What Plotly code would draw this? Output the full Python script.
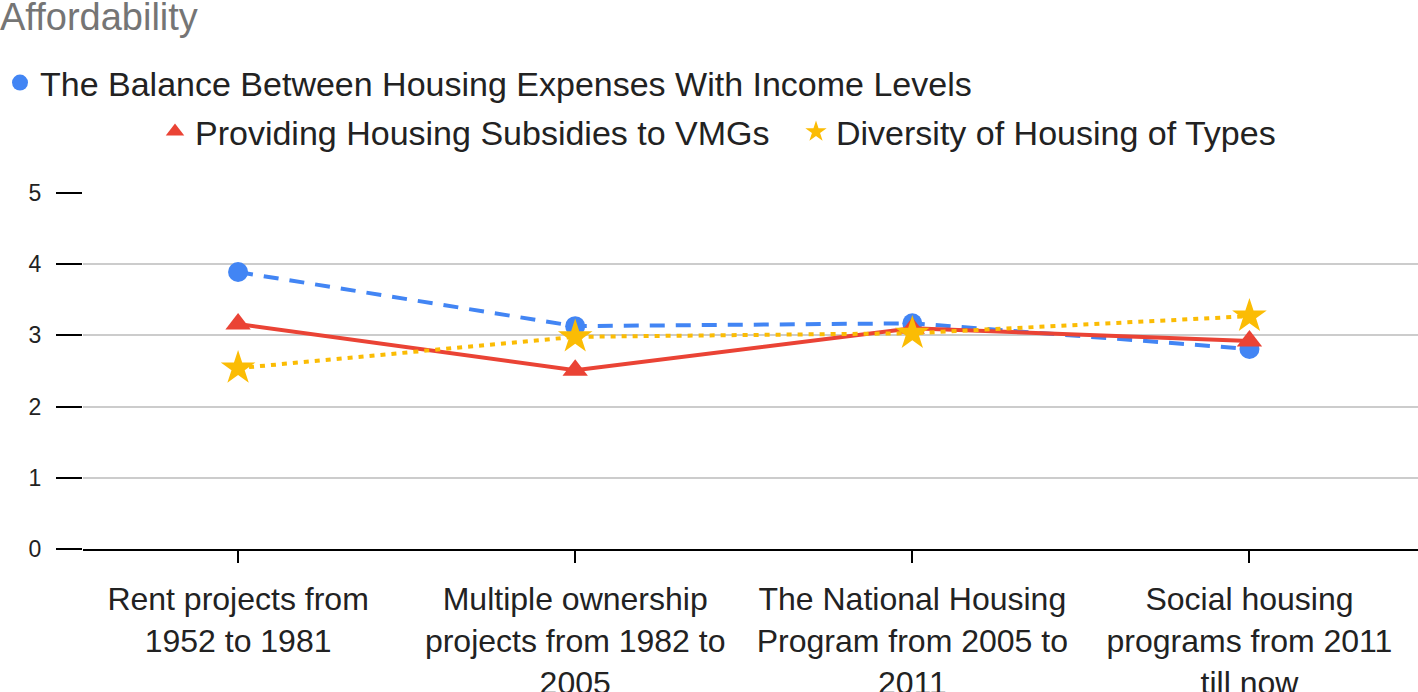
import plotly.graph_objects as go

categories = [
    "Rent projects from<br>1952 to 1981",
    "Multiple ownership<br>projects from 1982 to<br>2005",
    "The National Housing<br>Program from 2005 to<br>2011",
    "Social housing<br>programs from 2011<br>till now",
]
series_names = [
    "The Balance Between Housing Expenses With Income Levels",
    "Providing Housing Subsidies to VMGs",
    "Diversity of Housing of Types",
]
balance = [3.89, 3.13, 3.17, 2.81]
subsidies = [3.16, 2.51, 3.10, 2.92]
diversity = [2.54, 2.98, 3.03, 3.27]
y_ticks = [0, 1, 2, 3, 4, 5]
chart_title = "Affordability"

FONT = "Arial, Liberation Sans, sans-serif"
BLUE, RED, YELLOW = "#4285F4", "#EA4335", "#FBBC04"
W, H = 1418, 692
ML, MR, MT, MB = 83, 0, 193, 143
PW, PH = W - ML - MR, H - MT - MB

fig = go.Figure()
styles = [
    (balance, BLUE, "circle", 20, "15px,11px", "legend", 26),
    (subsidies, RED, "triangle-up", 22, "solid", "legend2", 22),
    (diversity, YELLOW, "star", 26, "5px,6px", "legend2", 24),
]
for name, (vals, col, sym, size, dash, leg, lsize) in zip(series_names, styles):
    fig.add_trace(go.Scatter(
        x=categories, y=vals, mode="lines+markers", name=name,
        line=dict(color=col, width=4, dash=dash),
        marker=dict(color=col, symbol=sym, size=size, line=dict(width=0)),
        showlegend=False,
    ))
for name, (vals, col, sym, size, dash, leg, lsize) in zip(series_names, styles):
    fig.add_trace(go.Scatter(
        x=[None], y=[None], mode="markers", name=name, legend=leg,
        marker=dict(color=col, symbol=sym, size=lsize, line=dict(width=0)),
        showlegend=True,
    ))

fig.add_annotation(
    text=chart_title, xref="paper", yref="paper",
    x=(-2 - ML) / PW, y=(H - MB - 17) / PH, xanchor="left", yanchor="middle",
    showarrow=False, font=dict(size=38, color="#757575", family=FONT),
)

fig.update_layout(
    width=W, height=H,
    margin=dict(l=ML, r=MR, t=MT, b=MB, autoexpand=False),
    paper_bgcolor="white", plot_bgcolor="white",
    font=dict(family=FONT, color="#222222"),
    xaxis=dict(type="category", range=[-0.46, 3.5], showgrid=False, automargin=False,
               showline=True, linecolor="black", linewidth=2,
               ticks="outside", ticklen=12, tickwidth=2, tickcolor="black",
               tickfont=dict(size=32, color="#222222", family=FONT),
               ticklabelstandoff=9),
    xaxis2=dict(type="linear", overlaying="x", anchor="y", side="bottom",
                range=[-0.46, 3.5], tickmode="array", tickvals=[0, 1, 2, 3],
                showticklabels=False, showgrid=False, showline=False, automargin=False,
                ticks="inside", ticklen=12, tickwidth=2, tickcolor="black",
                zeroline=False),
    yaxis=dict(range=[0, 5], tickvals=y_ticks, showgrid=True, automargin=False,
               gridcolor="#cccccc", gridwidth=2, zeroline=False, showline=False,
               ticks="outside", ticklen=26, tickwidth=2, tickcolor="black",
               tickfont=dict(size=23, color="#222222", family=FONT),
               ticklabelstandoff=10),
    legend=dict(orientation="h", x=-15 / W, xref="container", xanchor="left",
                y=1 - 83 / H, yref="container", yanchor="middle",
                font=dict(size=34, color="#222222", family=FONT),
                bgcolor="rgba(0,0,0,0)"),
    legend2=dict(orientation="h", x=155 / W, xref="container", xanchor="left",
                 y=1 - 132 / H, yref="container", yanchor="middle",
                 entrywidth=596, entrywidthmode="pixels",
                 font=dict(size=34, color="#222222", family=FONT),
                 bgcolor="rgba(0,0,0,0)"),
)

fig.write_html("out.html", config={"displayModeBar": False},
               post_script="document.body.style.margin='0px';")
